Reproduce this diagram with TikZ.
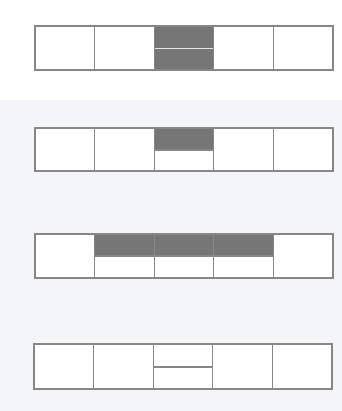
\documentclass[tikz,border=0pt]{standalone}
\definecolor{bandblue}{RGB}{243,245,248}
\definecolor{linegray}{RGB}{135,135,135}
\definecolor{fillgray}{RGB}{118,118,118}
\tikzset{
  frame/.style={draw=linegray, line width=1pt},
  shade/.style={fill=fillgray},
}
\begin{document}
\begin{tikzpicture}[x=0.03cm,y=-0.03cm]
			\useasboundingbox (0,0) rectangle (342,411);
			\fill[white] (0,0) rectangle (342,100);
			\fill[bandblue] (0,100) rectangle (342,411);
			% row 1: whole middle cell shaded
			\fill[shade] (154,26) rectangle (213,70);
			\draw[white!80!fillgray, line width=0.8pt] (154,48)--(213,48);
			\foreach \i in {0,...,4}
				\draw[frame] ({35+59.6*\i},26) rectangle ({35+59.6*(\i+1)},70);
			% row 2: upper half of middle cell
			\fill[white] (35,128) rectangle (333,171);
			\fill[shade] (154,128) rectangle (213,150);
			\draw[frame] (154,150)--(213,150);
			\foreach \i in {0,...,4}
				\draw[frame] ({35+59.6*\i},128) rectangle ({35+59.6*(\i+1)},171);
			% row 3: upper halves of three cells
			\fill[white] (35,234) rectangle (333,278);
			\fill[shade] (95,234) rectangle (273,256);
			\draw[frame] (95,256)--(273,256);
			\foreach \i in {0,...,4}
				\draw[frame] ({35+59.6*\i},234) rectangle ({35+59.6*(\i+1)},278);
			% row 4: middle cell split
			\fill[white] (34,344) rectangle (332,389);
			\draw[frame] (153,367)--(212,367);
			\foreach \i in {0,...,4}
				\draw[frame] ({34+59.6*\i},344) rectangle ({34+59.6*(\i+1)},389);
		\end{tikzpicture}
\end{document}
